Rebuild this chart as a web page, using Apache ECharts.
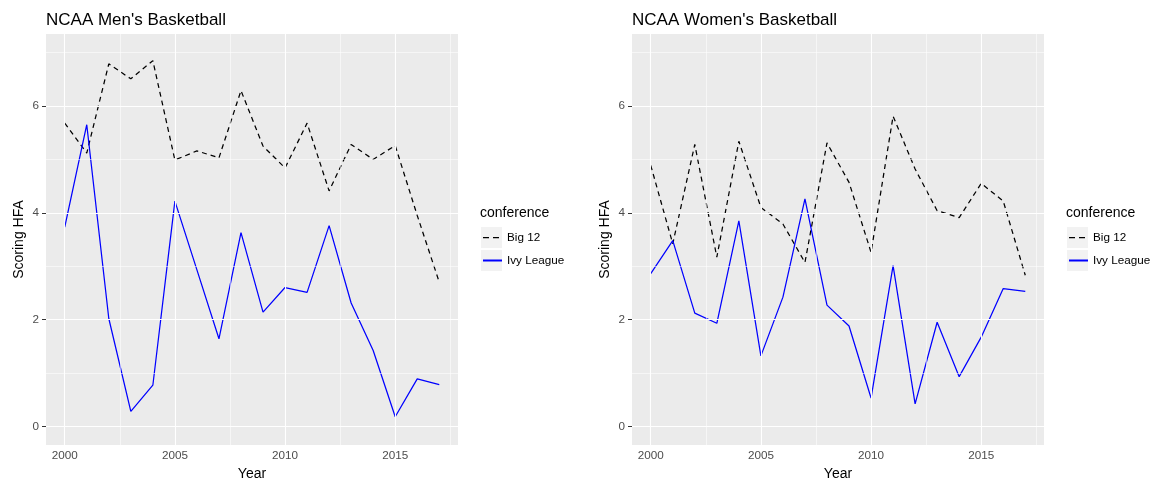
<!DOCTYPE html>
<html>
<head>
<meta charset="utf-8">
<script src="https://cdn.jsdelivr.net/npm/echarts@6/dist/echarts.min.js"></script>
<style>
html,body{margin:0;padding:0;background:#fff;}
#chart{width:1151px;height:479px;}
</style>
</head>
<body>
<div id="chart"></div>
<script>
// ---- data ----
const years = [2000,2001,2002,2003,2004,2005,2006,2007,2008,2009,2010,2011,2012,2013,2014,2015,2016,2017];
const menBig12   = [5.68,5.12,6.79,6.51,6.85,4.99,5.16,5.03,6.29,5.25,4.84,5.68,4.41,5.28,5.00,5.26,3.95,2.70];
const menIvy     = [3.73,5.65,2.02,0.28,0.77,4.22,2.93,1.64,3.63,2.14,2.60,2.51,3.76,2.31,1.42,0.18,0.89,0.78];
const womenBig12 = [4.89,3.42,5.28,3.17,5.34,4.10,3.79,3.07,5.31,4.57,3.26,5.81,4.82,4.04,3.91,4.55,4.22,2.83];
const womenIvy   = [2.86,3.48,2.12,1.93,3.85,1.32,2.42,4.26,2.27,1.88,0.53,3.01,0.42,1.95,0.93,1.67,2.58,2.53];

const xMajor = [2000,2005,2010,2015];
const xMinor = [2002.5,2007.5,2012.5,2017.5];
const yMajor = [0,2,4,6];
const yMinor = [1,3,5,7];
const panelTitles = ["NCAA Men's Basketball","NCAA Women's Basketball"];
const seriesNames = ['Big 12','Ivy League'];
const legendTitle = 'conference';

// ---- layout ----
const FONT = '"Liberation Sans", Arial, Helvetica, sans-serif';
const panels = [{left:46},{left:632}];
const PW = 412, PT = 34, PH = 411;
const XMIN = 1999.15, XMAX = 2017.85, YMIN = -0.35, YMAX = 7.35;

const zip = (xs, ys) => xs.map((x,i)=>[x, ys[i]]);
const dataSets = [[menBig12, menIvy],[womenBig12, womenIvy]];

const grid = [], xAxis = [], yAxis = [], series = [], title = [], legend = [], graphic = [];

panels.forEach((p, i) => {
  grid.push({left:p.left, top:PT, width:PW, height:PH, show:true, backgroundColor:'#EBEBEB',
    borderWidth:0, containLabel:false, outerBoundsMode:'none'});
  xAxis.push({
    type:'value', gridIndex:i, min:XMIN, max:XMAX,
    name:'Year', nameLocation:'middle', nameGap:19,
    nameTextStyle:{color:'#000', fontSize:14, fontFamily:FONT},
    axisLine:{show:false},
    axisTick:{show:true, length:4, customValues:xMajor, lineStyle:{color:'#333', width:1}},
    axisLabel:{color:'#4D4D4D', fontSize:11.7, fontFamily:FONT, margin:5, customValues:xMajor,
      formatter:(v)=>String(v)},
    splitLine:{show:false}
  });
  yAxis.push({
    type:'value', gridIndex:i, min:YMIN, max:YMAX,
    name:'Scoring HFA', nameLocation:'middle', nameGap:20, nameRotate:90,
    nameTextStyle:{color:'#000', fontSize:14, fontFamily:FONT},
    axisLine:{show:false},
    axisTick:{show:true, length:4, customValues:yMajor, lineStyle:{color:'#333', width:1}},
    axisLabel:{color:'#4D4D4D', fontSize:11.7, fontFamily:FONT, margin:7, customValues:yMajor,
      formatter:(v)=>String(v)},
    splitLine:{show:false}
  });
  const ml = [];
  xMinor.forEach(v=>ml.push({xAxis:v, lineStyle:{width:0.55}}));
  yMinor.forEach(v=>ml.push({yAxis:v, lineStyle:{width:0.55}}));
  xMajor.forEach(v=>ml.push({xAxis:v, lineStyle:{width:1.1}}));
  yMajor.forEach(v=>ml.push({yAxis:v, lineStyle:{width:1.1}}));
  series.push({
    name:'grid'+i, type:'line', xAxisIndex:i, yAxisIndex:i, z:1,
    data: zip(years, dataSets[i][0]), symbol:'none',
    lineStyle:{opacity:0}, silent:true, animation:false,
    markLine:{silent:true, symbol:['none','none'], label:{show:false}, animation:false,
      lineStyle:{color:'#FFFFFF', type:'solid'}, emphasis:{disabled:true}, data:ml}
  });
  series.push({
    name:seriesNames[0], type:'line', xAxisIndex:i, yAxisIndex:i, z:3,
    data: zip(years, dataSets[i][0]), symbol:'none', showSymbol:false,
    lineStyle:{color:'#000000', width:1.25, type:[5,4]}, itemStyle:{color:'#000000'},
    animation:false
  });
  series.push({
    name:seriesNames[1], type:'line', xAxisIndex:i, yAxisIndex:i, z:3,
    data: zip(years, dataSets[i][1]), symbol:'none', showSymbol:false,
    lineStyle:{color:'#0000FF', width:1.25}, itemStyle:{color:'#0000FF'},
    animation:false
  });
  title.push({text:panelTitles[i], left:p.left, top:12, padding:0,
    textStyle:{color:'#000', fontSize:17, fontWeight:'normal', fontFamily:FONT}});
  const lx = p.left + PW + 22;
  title.push({text:legendTitle, left:lx, top:206, padding:0,
    textStyle:{color:'#000', fontSize:14, fontWeight:'normal', fontFamily:FONT}});
  graphic.push({type:'rect', left:lx+1, top:227, z:0, shape:{width:21, height:21}, style:{fill:'#F2F2F2'}, silent:true});
  graphic.push({type:'rect', left:lx+1, top:250, z:0, shape:{width:21, height:21}, style:{fill:'#F2F2F2'}, silent:true});
  legend.push({
    data:[{name:seriesNames[0], lineStyle:{type:[6,4], width:1.25}}, {name:seriesNames[1]}],
    orient:'vertical', left:lx+2, top:230.5,
    itemWidth:19, itemHeight:14, itemGap:9, selectedMode:false,
    itemStyle:{color:'rgba(0,0,0,0)', borderColor:'rgba(0,0,0,0)', borderWidth:0, opacity:0},
    textStyle:{color:'#000', fontSize:11.7, fontFamily:FONT, lineHeight:14, padding:[0,0,0,0]},
    itemTextGap:5, padding:0, z:5
  });
});

const chart = echarts.init(document.getElementById('chart'), null, {renderer:'canvas'});
chart.setOption({
  animation:false,
  backgroundColor:'#FFFFFF',
  title, grid, xAxis, yAxis, series, legend, graphic
});
</script>
</body>
</html>
